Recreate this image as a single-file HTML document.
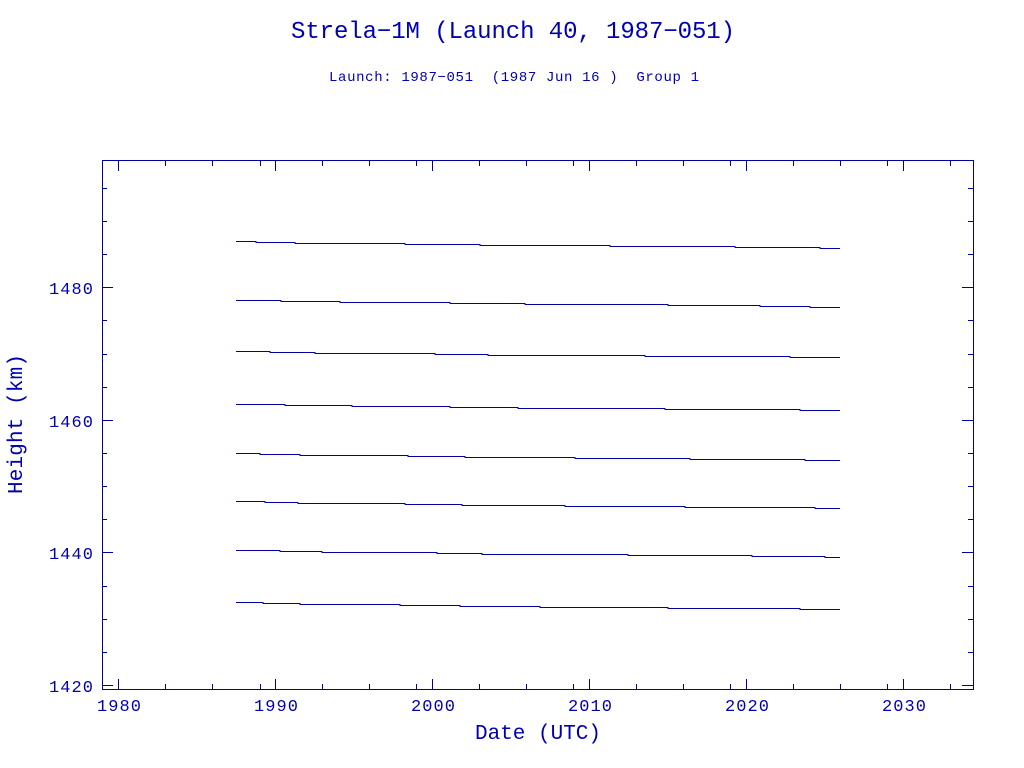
<!DOCTYPE html>
<html><head><meta charset="utf-8"><style>
html,body{margin:0;padding:0;background:#fff;}
svg{display:block;}
text{font-family:"Liberation Mono",monospace;fill:#0000b0;}
</style></head><body>
<svg width="1024" height="768" xmlns="http://www.w3.org/2000/svg">
<text x="513" y="38" font-size="24" text-anchor="middle" textLength="444">Strela−1M (Launch 40, 1987−051)</text>
<text x="514" y="81" font-size="14" text-anchor="middle" textLength="370" xml:space="preserve">Launch: 1987−051  (1987 Jun 16 )  Group 1</text>
<g stroke="#0000a0" stroke-width="1" fill="none" shape-rendering="crispEdges">
<rect x="102.5" y="160.5" width="871" height="529"/>
<path d="M118.5 690V679M275.5 690V679M432.5 690V679M589.5 690V679M746.5 690V679M903.5 690V679
M118.5 160V171M275.5 160V171M432.5 160V171M589.5 160V171M746.5 160V171M903.5 160V171"/>
<path d="M165.5 690V684M212.5 690V684M260.5 690V684M322.5 690V684M369.5 690V684M416.5 690V684M479.5 690V684M526.5 690V684M573.5 690V684M636.5 690V684M683.5 690V684M730.5 690V684M793.5 690V684M840.5 690V684M887.5 690V684M950.5 690V684
M165.5 160V166M212.5 160V166M260.5 160V166M322.5 160V166M369.5 160V166M416.5 160V166M479.5 160V166M526.5 160V166M573.5 160V166M636.5 160V166M683.5 160V166M730.5 160V166M793.5 160V166M840.5 160V166M887.5 160V166M950.5 160V166"/>
<path d="M102 685.5H113M102 552.5H113M102 420.5H113M102 287.5H113M973 685.5H962M973 552.5H962M973 420.5H962M973 287.5H962"/>
<path d="M102 652.5H107M102 619.5H107M102 586.5H107M102 519.5H107M102 486.5H107M102 453.5H107M102 387.5H107M102 354.5H107M102 320.5H107M102 254.5H107M102 221.5H107M102 188.5H107
M973 652.5H968M973 619.5H968M973 586.5H968M973 519.5H968M973 486.5H968M973 453.5H968M973 387.5H968M973 354.5H968M973 320.5H968M973 254.5H968M973 221.5H968M973 188.5H968"/>
<path d="M236 241.5H256V242.5H295V243.5H405V244.5H480V245.5H610V246.5H735V247.5H820V248.5H840"/>
<path d="M236 300.5H281V301.5H340V302.5H450V303.5H525V304.5H668V305.5H760V306.5H810V307.5H840"/>
<path d="M236 351.5H270V352.5H315V353.5H435V354.5H488V355.5H645V356.5H790V357.5H840"/>
<path d="M236 404.5H285V405.5H352V406.5H450V407.5H518V408.5H665V409.5H800V410.5H840"/>
<path d="M236 453.5H260V454.5H300V455.5H408V456.5H465V457.5H575V458.5H690V459.5H805V460.5H840"/>
<path d="M236 501.5H265V502.5H298V503.5H405V504.5H462V505.5H565V506.5H685V507.5H815V508.5H840"/>
<path d="M236 550.5H280V551.5H322V552.5H437V553.5H482V554.5H628V555.5H752V556.5H825V557.5H840"/>
<path d="M236 602.5H263V603.5H300V604.5H400V605.5H460V606.5H540V607.5H668V608.5H800V609.5H840"/>
</g>
<g font-size="17" text-anchor="end">
<text x="93" y="692" textLength="44">1420</text>
<text x="93" y="559" textLength="44">1440</text>
<text x="93" y="427" textLength="44">1460</text>
<text x="93" y="294" textLength="44">1480</text>
</g>
<g font-size="17" text-anchor="middle">
<text x="119" y="711" textLength="44">1980</text>
<text x="276" y="711" textLength="44">1990</text>
<text x="433" y="711" textLength="44">2000</text>
<text x="590" y="711" textLength="44">2010</text>
<text x="747" y="711" textLength="44">2020</text>
<text x="904" y="711" textLength="44">2030</text>
</g>
<text x="538" y="739" font-size="21" text-anchor="middle" textLength="126">Date (UTC)</text>
<text transform="translate(22,424) rotate(-90)" font-size="21" text-anchor="middle" textLength="140">Height (km)</text>
</svg>
</body></html>
